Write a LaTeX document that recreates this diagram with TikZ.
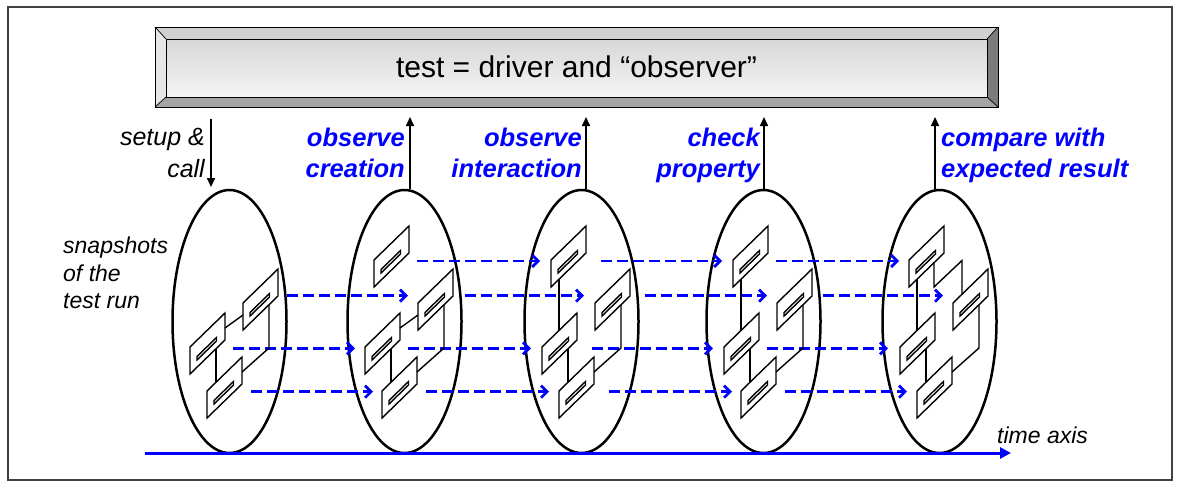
\documentclass[tikz,border=0pt]{standalone}
\usepackage{fontspec}
\setmainfont{Liberation Sans}
\usetikzlibrary{arrows.meta,shapes.geometric}
\definecolor{bevtop}{HTML}{D0D0D0}
\definecolor{bevleft}{HTML}{E6E6E6}
\definecolor{bevright}{HTML}{7C7C7C}
\definecolor{bevbot}{HTML}{A4A4A4}
\definecolor{bevface}{HTML}{EDEDED}
\newcommand\umlobj[2]{%
  \filldraw[objline, fill=white] (#1,#2) -- ++(0,-27) -- ++(35,-34) -- ++(0,27) -- cycle;
  \draw[objline] (#1+7,#2-14) -- ++(19.5,-19) -- ++(0,-3.5) -- ++(-19.5,19) -- cycle;
}
\newcommand\lnkBA[1]{\draw[objline] (#1+35,328) -- (#1+53,315);}
\newcommand\lnkBC[1]{\draw[objline] (#1+26,348.7) -- (#1+26,382.3);}
\newcommand\lnkAC[1]{\draw[objline] (#1+79,304.7) -- (#1+79,348) -- (#1+52,372);}
\newcommand\lnkTB[1]{\draw[objline] (#1+17,279.2) -- (#1+17,330.5);}
\newcommand\lnkTA[1]{\draw[objline] (#1+34,262.7) -- (#1+34,287) -- (#1+62,260.5) -- (#1+62,294.3);}
\begin{document}
\begin{tikzpicture}[x=1pt,y=-1pt,
  objline/.style={black, line width=1.4pt, line join=miter},
  snap/.style={draw=black, line width=2.5pt, ellipse, minimum width=114pt, minimum height=263pt, inner sep=0pt},
  flow/.style={blue, line width=2.8pt, dash pattern=on 11pt off 5pt, -{Straight Barb[length=6pt,width=12pt]}},
  vert/.style={black, line width=1.6pt, -{Triangle[length=9pt,width=8pt]}},
  lab/.style={font=\fontsize{25}{30}\selectfont\itshape, inner sep=0pt},
  blab/.style={font=\fontsize{25.5}{30}\selectfont\bfseries\itshape, text=blue, inner sep=0pt},
  slab/.style={font=\fontsize{23}{28}\selectfont\itshape, inner sep=0pt},
  axisline/.style={blue, line width=3pt, -{Triangle[length=11pt,width=11pt]}},
  bevline/.style={black, line width=0.7pt}
]
\useasboundingbox (0,0) rectangle (1178,482);
\fill[white] (0,0) rectangle (1178,482);
\draw[black!75, line width=1.8pt] (8,7) rectangle (1172,480);

% bevelled title box
\shade[top color=bevface!80!gray, bottom color=bevface!60!white] (166,39) rectangle (987,97);
\fill[bevleft] (155,27) -- (166,39) -- (166,97) -- (155,107) -- cycle;
\fill[bevtop] (155,27) -- (998,27) -- (987,39) -- (166,39) -- cycle;
\fill[bevright] (998,27) -- (998,107) -- (987,97) -- (987,39) -- cycle;
\fill[bevbot] (155,107) -- (998,107) -- (987,97) -- (166,97) -- cycle;
\draw[bevline] (155,27) rectangle (998,107);
\draw[bevline] (166,39) rectangle (987,97);
\draw[bevline] (155,27) -- (166,39) (998,27) -- (987,39) (998,107) -- (987,97) (155,107) -- (166,97);
\node[font=\fontsize{30}{36}\selectfont, anchor=base, inner sep=0pt] (title) at (576.5,77) {test = driver and “observer”};

% snapshots
\node[snap] (e1) at (229.5,321.5) {};
\node[snap] (e2) at (404.5,321.5) {};
\node[snap] (e3) at (581.5,321.5) {};
\node[snap] (e4) at (763.5,321.5) {};
\node[snap] (e5) at (939.5,321.5) {};

% time axis
\coordinate (t0) at (145,453);
\coordinate (t1) at (1011,453);
\draw[axisline] (t0) -- (t1);
\node[slab, anchor=base west] (taxis) at (997,443) {time axis};

% driver / observer arrows
\coordinate (d0) at (211,119);
\coordinate (d1) at (211,187);
\draw[vert] (d0) -- (d1);
\coordinate (u2) at (410,117);
\coordinate (u3) at (586,117);
\coordinate (u4) at (764,117);
\coordinate (u5) at (935,117);
\draw[vert] (u2 |- e2.north) -- (u2);
\draw[vert] (u3 |- e3.north) -- (u3);
\draw[vert] (u4 |- e4.north) -- (u4);
\draw[vert] (u5 |- e5.north) -- (u5);

% labels
\node[lab, anchor=base east] (su1) at (205,145) {setup \&};
\node[lab, anchor=base east] (su2) at (205,177) {call};
\node[blab, anchor=base east] (oc1) at (405,146) {observe};
\node[blab, anchor=base east] (oc2) at (405,177) {creation};
\node[blab, anchor=base east] (oi1) at (582,146) {observe};
\node[blab, anchor=base east] (oi2) at (582,177) {interaction};
\node[blab, anchor=base east] (cp1) at (760,146) {check};
\node[blab, anchor=base east] (cp2) at (760,177) {property};
\node[blab, anchor=base west] (ce1) at (941,146) {compare with};
\node[blab, anchor=base west] (ce2) at (941,177) {expected result};
\node[slab, anchor=base west] (sn1) at (63,253) {snapshots};
\node[slab, anchor=base west] (sn2) at (63,281) {of the};
\node[slab, anchor=base west] (sn3) at (63,308) {test run};

% flow of objects between snapshots
\foreach \a/\b in {417/540, 601/722, 776/899} \draw[flow] (\a,261) -- (\b,261);
\foreach \a/\b in {287/408, 465/584, 645/767, 823/943} \draw[flow] (\a,295.7) -- (\b,295.7);
\foreach \a/\b in {233/355, 408/531, 592/713, 767/888} \draw[flow] (\a,348.3) -- (\b,348.3);
\foreach \a/\b in {251/373, 426/549, 609/732, 785/907} \draw[flow] (\a,391.7) -- (\b,391.7);

% object structures
% snapshot 1
\umlobj{243}{330}\umlobj{190}{374}\umlobj{207}{418}
\lnkBA{190}\lnkBC{190}\lnkAC{190}
% snapshot 2
\umlobj{374}{287}\umlobj{418}{330}\umlobj{365}{374}\umlobj{382}{418}
\lnkBA{365}\lnkBC{365}\lnkAC{365}
% snapshot 3
\umlobj{551}{287}\umlobj{595}{330}\umlobj{542}{374}\umlobj{559}{418}
\lnkTB{542}\lnkBC{542}\lnkAC{542}
% snapshot 4
\umlobj{733}{287}\umlobj{777}{330}\umlobj{724}{374}\umlobj{741}{418}
\lnkTB{724}\lnkBC{724}\lnkAC{724}
% snapshot 5
\umlobj{909}{287}\umlobj{953}{330}\umlobj{900}{374}\umlobj{917}{418}
\lnkTB{900}\lnkTA{900}\lnkBC{900}\lnkAC{900}
\end{tikzpicture}
\end{document}
